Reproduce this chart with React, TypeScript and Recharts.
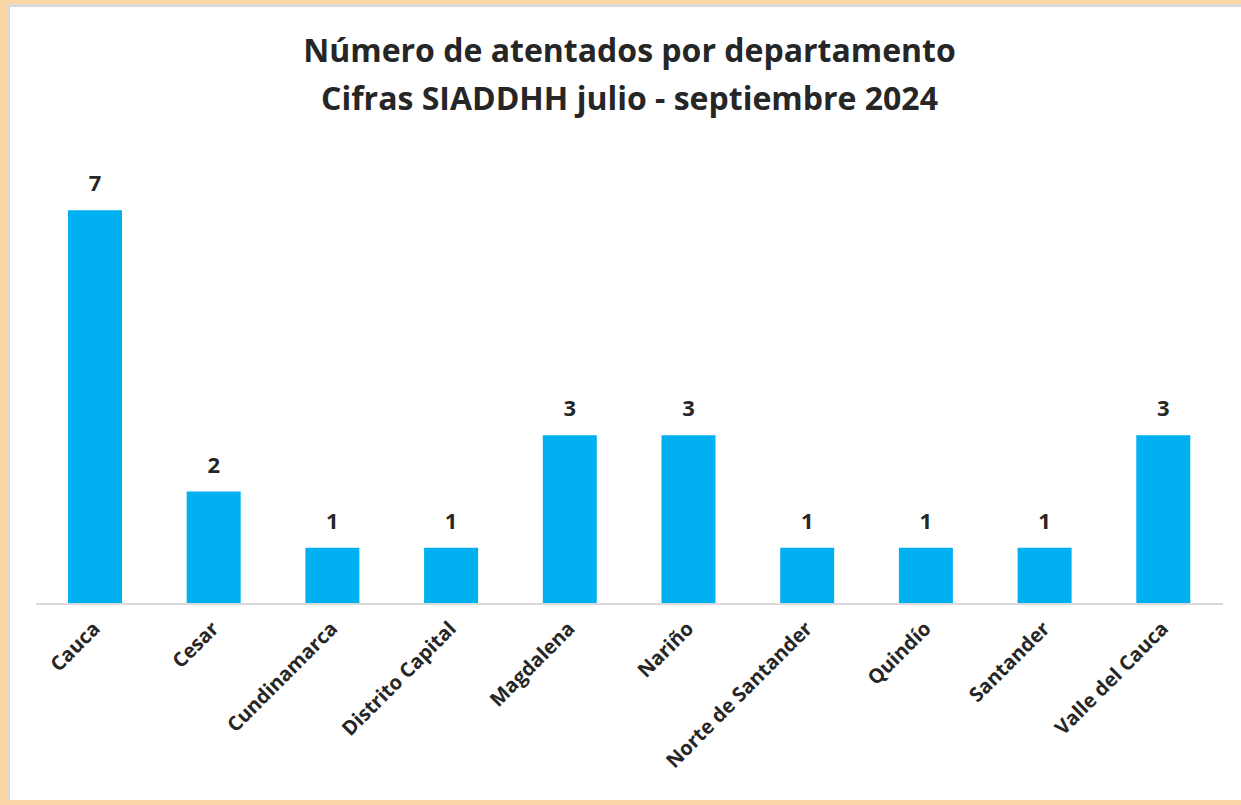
import { BarChart, Bar, XAxis, YAxis, LabelList } from "recharts";

const departamentos = [
  "Cauca",
  "Cesar",
  "Cundinamarca",
  "Distrito Capital",
  "Magdalena",
  "Nariño",
  "Norte de Santander",
  "Quindío",
  "Santander",
  "Valle del Cauca",
];
const atentados = [7, 2, 1, 1, 3, 3, 1, 1, 1, 3];

const titulo = "Número de atentados por departamento";
const subtitulo = "Cifras SIADDHH julio - septiembre 2024";

const data = departamentos.map((d, i) => ({ name: d, value: atentados[i] }));

const FONT = "'Open Sans', Lato, sans-serif";

function AngledTick(props: any) {
  const { x, y, payload } = props;
  const ax = x + 6;
  const ay = y + 18;
  return (
    <text
      x={ax}
      y={ay}
      transform={`rotate(-45, ${ax}, ${ay})`}
      textAnchor="end"
      fontFamily={FONT}
      fontWeight={700}
      fontSize={20}
      fill="#262626"
    >
      {payload.value}
    </text>
  );
}

export default function App() {
  return (
    <div
      style={{
        position: "fixed",
        left: 0,
        top: 0,
        width: 1241,
        height: 805,
        background: "#fbd6a6",
        overflow: "hidden",
      }}
    >
      <div
        style={{
          position: "absolute",
          left: 7,
          top: 4,
          width: 1240,
          height: 796,
          background: "#ffffff",
          borderTop: "3px solid #d9d9d9",
          borderLeft: "3px solid #d9d9d9",
          boxSizing: "border-box",
        }}
      />
      <div
        style={{
          position: "absolute",
          left: 0,
          top: 26,
          width: 1259,
          textAlign: "center",
          fontFamily: FONT,
          fontWeight: 700,
          fontSize: 32,
          lineHeight: "48px",
          color: "#262626",
        }}
      >
        <div>{titulo}</div>
        <div>{subtitulo}</div>
      </div>
      <div style={{ position: "absolute", left: 0, top: 0 }}>
        <BarChart
          width={1241}
          height={805}
          data={data}
          margin={{ top: 154, right: 18, bottom: 0, left: 36 }}
          barCategoryGap={0}
        >
          <XAxis
            dataKey="name"
            interval={0}
            height={201}
            tickLine={false}
            axisLine={{ stroke: "#d9d9d9", strokeWidth: 2 }}
            tick={<AngledTick />}
          />
          <YAxis hide domain={[0, 8]} />
          <Bar dataKey="value" fill="#00b0f0" barSize={54} isAnimationActive={false}>
            <LabelList
              dataKey="value"
              position="top"
              offset={19}
              fill="#262626"
              fontFamily={FONT}
              fontWeight={700}
              fontSize={22}
            />
          </Bar>
        </BarChart>
      </div>
    </div>
  );
}
